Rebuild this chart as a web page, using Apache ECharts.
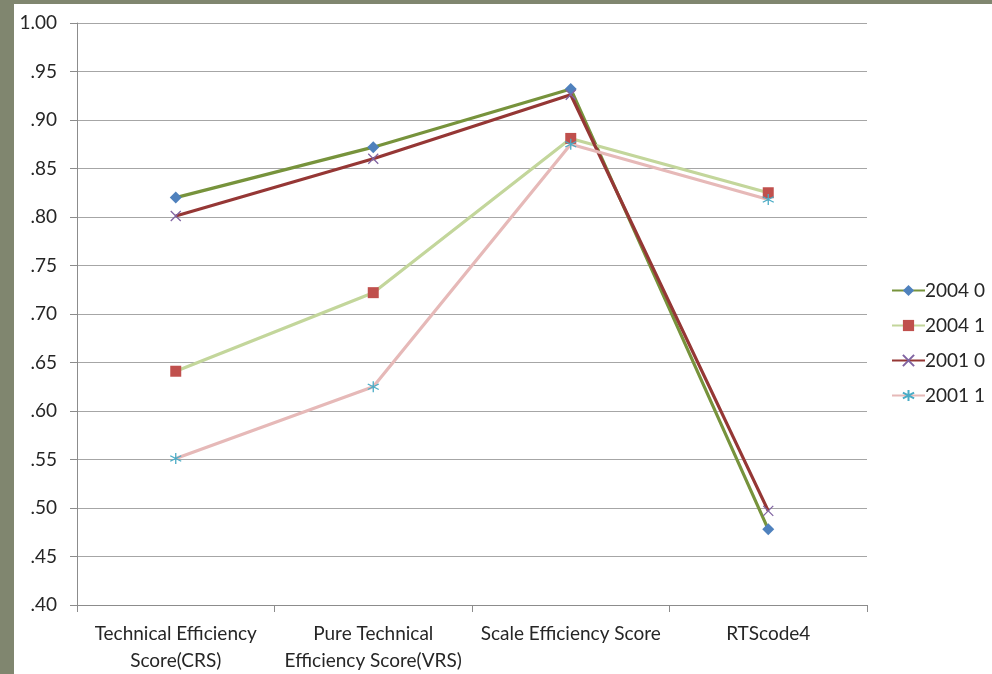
<!DOCTYPE html>
<html>
<head>
<meta charset="utf-8">
<script src="https://cdn.jsdelivr.net/npm/echarts@6/dist/echarts.min.js"></script>
<style>
  html, body { margin: 0; padding: 0; width: 992px; height: 674px; overflow: hidden; background: #80866f; }
  #card { position: absolute; left: 14px; top: 4px; width: 978px; height: 670px; background: #ffffff; }
  #chart { position: absolute; left: 0; top: 0; width: 992px; height: 674px; }
</style>
</head>
<body>
<div id="card"></div>
<div id="chart"></div>
<script>
// Efficiency scores by measure, for each year/group combination
const categories = [
  'Technical Efficiency\nScore(CRS)',
  'Pure Technical\nEfficiency Score(VRS)',
  'Scale Efficiency Score',
  'RTScode4'
];
const seriesNames = ['2004 0', '2004 1', '2001 0', '2001 1'];
const s2004_0 = [0.820, 0.872, 0.932, 0.478];
const s2004_1 = [0.641, 0.722, 0.881, 0.825];
const s2001_0 = [0.801, 0.860, 0.926, 0.497];
const s2001_1 = [0.551, 0.625, 0.875, 0.818];
const yTicks = [0.40, 0.45, 0.50, 0.55, 0.60, 0.65, 0.70, 0.75, 0.80, 0.85, 0.90, 0.95, 1.00];

const FONT = 'Lato, "Open Sans", sans-serif';
const TXT = '#262626';

const crossPath = 'path://M0,0L10,10M10,0L0,10';
const starPath = 'path://M5,0L5,10M0.7,2.5L9.3,7.5M9.3,2.5L0.7,7.5';

function lineSeries(name, data, lineColor, markColor, symbol, size, stroked) {
  const item = stroked
    ? { color: markColor, borderColor: markColor, borderWidth: 1.3 }
    : { color: markColor, borderWidth: 0 };
  return {
    name: name,
    type: 'line',
    data: data,
    symbol: symbol,
    symbolSize: size,
    showAllSymbol: true,
    lineStyle: { color: lineColor, width: 3.2 },
    itemStyle: item,
    emphasis: { disabled: true },
    z: 2
  };
}

const chart = echarts.init(document.getElementById('chart'), null, { renderer: 'canvas' });
chart.setOption({
  animation: false,
  backgroundColor: 'transparent',
  textStyle: { fontFamily: FONT, color: TXT },
  grid: { left: 77, right: 125, top: 23, bottom: 67, containLabel: false },
  legend: {
    orient: 'vertical',
    left: 886,
    top: 276,
    itemWidth: 33,
    itemHeight: 14,
    itemGap: 16,
    textStyle: { fontFamily: FONT, fontSize: 19, color: TXT, padding: [0, 0, 0, -5] },
    data: seriesNames
  },
  xAxis: {
    type: 'category',
    data: categories,
    boundaryGap: true,
    axisLine: { lineStyle: { color: '#8c8c8c', width: 1 } },
    axisTick: { show: true, length: 7, inside: false, lineStyle: { color: '#8c8c8c' } },
    axisLabel: { fontFamily: FONT, fontSize: 19, color: TXT, margin: 15, lineHeight: 27, interval: 0 },
    splitLine: { show: false }
  },
  yAxis: {
    type: 'value',
    min: 0.40,
    max: 1.00,
    interval: 0.05,
    axisLine: { show: true, lineStyle: { color: '#8c8c8c', width: 1 } },
    axisTick: { show: true, length: 7, lineStyle: { color: '#8c8c8c' } },
    axisLabel: {
      fontFamily: FONT, fontSize: 19, color: TXT, margin: 20,
      formatter: function (v) {
        const t = yTicks.find(function (k) { return Math.abs(k - v) < 1e-6; });
        const val = t === undefined ? v : t;
        return val >= 0.9999 ? val.toFixed(2) : val.toFixed(2).replace(/^0/, '');
      }
    },
    splitLine: { show: true, lineStyle: { color: '#a6a6a6', width: 1 } }
  },
  series: [
    lineSeries(seriesNames[0], s2004_0, '#77933C', '#4F81BD', 'diamond', 12, false),
    lineSeries(seriesNames[1], s2004_1, '#C3D69B', '#C0504D', 'rect', 11, false),
    lineSeries(seriesNames[2], s2001_0, '#953735', '#8064A2', crossPath, 10, true),
    lineSeries(seriesNames[3], s2001_1, '#E6B9B8', '#4BACC6', starPath, 11, true)
  ]
});
</script>
</body>
</html>
